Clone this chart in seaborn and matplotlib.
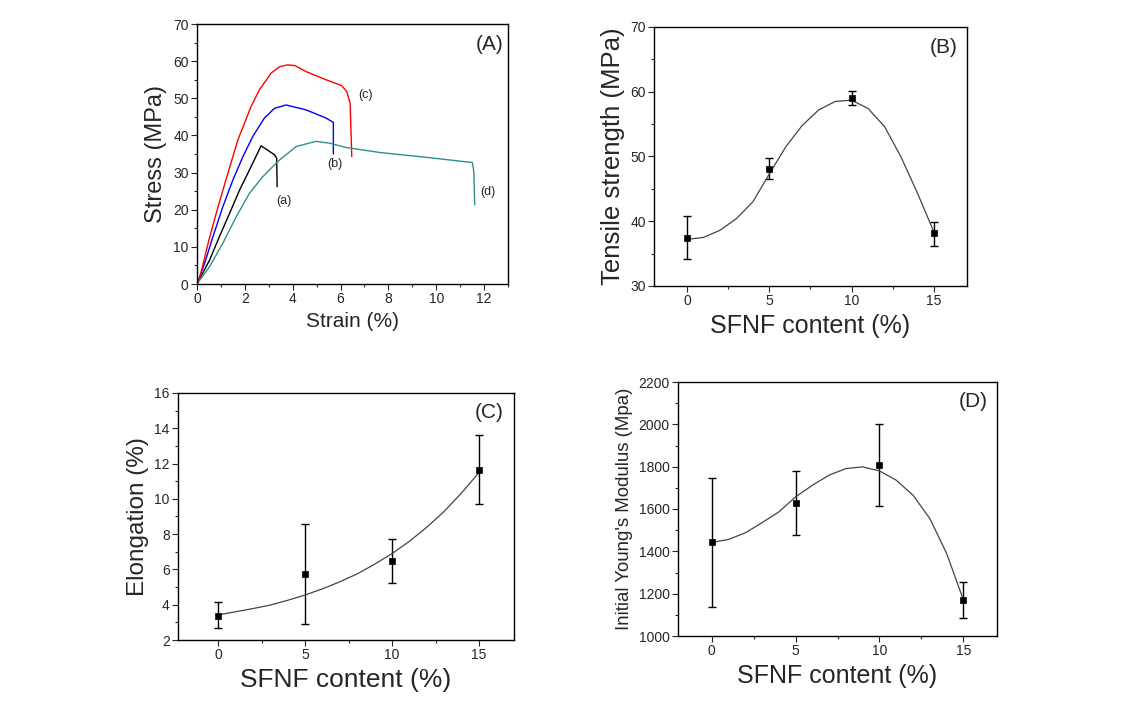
import pandas as pd
import seaborn as sns
import matplotlib.pyplot as plt
from matplotlib.ticker import MultipleLocator

# (A) stress-strain curves
strain_a = [0, 0.53, 0.94, 1.36, 1.78, 2.26, 2.68, 3.24, 3.33, 3.35]
stress_a = [0, 6.5, 12.8, 19.0, 25.3, 31.6, 37.2, 34.8, 33.9, 26.2]
strain_b = [0, 0.32, 0.67, 1.08, 1.50, 1.92, 2.33, 2.82, 3.24, 3.72, 4.55, 5.39, 5.70, 5.70]
stress_b = [0, 5.6, 12.8, 20.8, 28.0, 34.3, 39.7, 44.7, 47.3, 48.2, 46.9, 44.7, 43.5, 35.0]
strain_c = [0, 0.11, 0.50, 0.88, 1.29, 1.71, 2.26, 2.61, 3.10, 3.45, 3.79, 4.10, 4.55,
            5.39, 6.05, 6.26, 6.40, 6.47]
stress_c = [0, 1.5, 11.9, 20.8, 29.8, 38.8, 47.8, 52.3, 56.8, 58.5, 59.0, 58.8, 57.2,
            55.0, 53.4, 51.8, 48.7, 34.3]
strain_d = [0, 0.53, 1.08, 1.64, 2.19, 2.75, 3.38, 4.14, 4.97, 5.56, 6.19, 7.65, 9.73,
            11.51, 11.57, 11.61]
stress_d = [0, 4.7, 11.0, 18.1, 24.4, 28.9, 33.0, 37.0, 38.4, 37.9, 36.8, 35.4, 34.0,
            32.7, 30.3, 21.3]

# SFNF content and measured properties
content = [0, 5, 10, 15]
tensile = [37.4, 48.0, 59.0, 38.2]
tensile_lo = [34.1, 46.6, 58.0, 36.2]
tensile_hi = [40.8, 49.7, 60.1, 39.9]
elong = [3.36, 5.75, 6.48, 11.65]
elong_lo = [2.66, 2.89, 5.22, 9.7]
elong_hi = [4.14, 8.56, 7.75, 13.6]
modulus = [1442, 1629, 1807, 1170]
modulus_lo = [1138, 1475, 1615, 1083]
modulus_hi = [1747, 1778, 2000, 1253]

# fitted curves as drawn in the figure
fit_x = list(range(16))
fit_tensile = [37.2, 37.5, 38.6, 40.4, 43.0, 47.3, 51.5, 54.8, 57.2, 58.5, 58.7, 57.4, 54.6, 49.9, 44.3, 38.3]
fit_elong = [3.42, 3.6, 3.78, 3.98, 4.25, 4.55, 4.9, 5.3, 5.75, 6.3, 6.9, 7.6, 8.4, 9.3, 10.35, 11.5]
fit_modulus = [1442, 1456, 1487, 1535, 1586, 1657, 1712, 1760, 1791, 1799, 1780, 1736, 1665, 1555, 1390, 1170]

sns.set_style('ticks')
plt.rcParams['font.family'] = ['Liberation Sans', 'DejaVu Sans']
plt.rcParams['xtick.direction'] = 'out'
plt.rcParams['ytick.direction'] = 'out'

W, H = 1135, 713
fig = plt.figure(figsize=(W / 100, H / 100), dpi=100)


def box(left, top, right, bottom):
    return [left / W, 1 - bottom / H, (right - left) / W, (bottom - top) / H]


def style_axes(ax):
    for s in ax.spines.values():
        s.set_linewidth(1.0)
        s.set_color('black')
    ax.tick_params(which='major', length=4, width=0.8, labelsize=10, pad=2)
    ax.tick_params(which='minor', length=2.5, width=0.8)


# ---- (A)
axA = fig.add_axes(box(197, 24, 508, 284))
for x, y, c in [(strain_a, stress_a, 'black'), (strain_b, stress_b, 'blue'),
                (strain_c, stress_c, 'red'), (strain_d, stress_d, '#2f8f8f')]:
    sns.lineplot(x=x, y=y, ax=axA, color=c, lw=1.0, sort=False, estimator=None)
axA.set_xlim(0, 13)
axA.set_ylim(0, 70)
axA.xaxis.set_major_locator(MultipleLocator(2))
axA.xaxis.set_minor_locator(MultipleLocator(1))
axA.yaxis.set_major_locator(MultipleLocator(10))
axA.yaxis.set_minor_locator(MultipleLocator(5))
axA.set_xlabel('Strain (%)', fontsize=15, labelpad=4)
axA.set_ylabel('Stress (MPa)', fontsize=17, labelpad=4)
axA.text(3.3, 21.5, '(a)', fontsize=9)
axA.text(5.45, 31.5, '(b)', fontsize=9)
axA.text(6.75, 50, '(c)', fontsize=9)
axA.text(11.85, 24, '(d)', fontsize=9)
axA.text(12.8, 63, '(A)', fontsize=15, ha='right')
style_axes(axA)


def property_panel(ax, y, lo, hi, fit, ylim, major, minor, ylabel, ylabel_size, tag):
    ax.errorbar(content, y, yerr=[[a - b for a, b in zip(y, lo)], [b - a for a, b in zip(y, hi)]],
                fmt='none', ecolor='black', elinewidth=1.0, capsize=3, capthick=1.0, zorder=2)
    sns.lineplot(x=fit_x, y=fit, ax=ax, color='#444444', lw=0.9, zorder=3)
    sns.scatterplot(x=content, y=y, ax=ax, marker='s', s=20, color='black',
                    edgecolor='black', linewidth=0.5, zorder=4)
    ax.set_xlim(-2, 17)
    ax.set_ylim(*ylim)
    ax.set_xticks(content)
    ax.xaxis.set_minor_locator(MultipleLocator(2.5))
    ax.yaxis.set_major_locator(MultipleLocator(major))
    ax.yaxis.set_minor_locator(MultipleLocator(minor))
    ax.set_xlabel('SFNF content (%)', fontsize=18, labelpad=4)
    ax.set_ylabel(ylabel, fontsize=ylabel_size, labelpad=4)
    ax.text(0.97, 0.90, tag, transform=ax.transAxes, fontsize=15, ha='right')
    style_axes(ax)


axB = fig.add_axes(box(654, 27, 967, 286))
property_panel(axB, tensile, tensile_lo, tensile_hi, fit_tensile, (30, 70), 10, 5,
               'Tensile strength (MPa)', 18.5, '(B)')

axC = fig.add_axes(box(178, 393, 514, 640))
property_panel(axC, elong, elong_lo, elong_hi, fit_elong, (2, 16), 2, 1,
               'Elongation (%)', 17.5, '(C)')
axC.set_xlim(-2.3, 17)
axC.xaxis.label.set_fontsize(19)

axD = fig.add_axes(box(678, 382, 997, 636))
property_panel(axD, modulus, modulus_lo, modulus_hi, fit_modulus, (1000, 2200), 200, 100,
               "Initial Young's Modulus (Mpa)", 13.4, '(D)')

fig.savefig('out.png', dpi=100)
